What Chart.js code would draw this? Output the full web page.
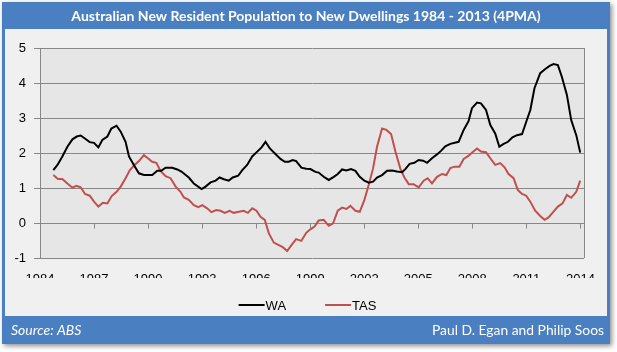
<!DOCTYPE html>
<html>
<head>
<meta charset="utf-8">
<script src="https://cdn.jsdelivr.net/npm/chart.js@4/dist/chart.umd.min.js"></script>
<style>
  html, body { margin: 0; padding: 0; background: #fff; }
  canvas { display: block; }
</style>
</head>
<body>
<canvas id="myChart" width="617" height="352"></canvas>
<script>
// Chart text
const chartTitle = "Australian New Resident Population to New Dwellings 1984 - 2013 (4PMA)";
const sourceText = "Source: ABS";
const authorText = "Paul D. Egan and Philip Soos";
const xTickLabels = [1984, 1987, 1990, 1993, 1996, 1999, 2002, 2005, 2008, 2011, 2014];
const yTickLabels = [-1, 0, 1, 2, 3, 4, 5];

// WA series (year, ratio)
const waYears = [1984.74,1984.97,1985.24,1985.52,1985.80,1986.04,1986.26,1986.53,1986.76,1987.00,
  1987.24,1987.46,1987.74,1987.96,1988.25,1988.48,1988.75,1988.94,1989.21,1989.49,
  1989.77,1990.23,1990.51,1990.73,1990.97,1991.34,1991.62,1991.85,1992.26,1992.54,
  1992.97,1993.19,1993.47,1993.75,1993.97,1994.21,1994.48,1994.70,1995.00,1995.23,
  1995.50,1995.78,1996.06,1996.30,1996.52,1996.76,1997.07,1997.35,1997.59,1997.81,
  1998.03,1998.22,1998.51,1998.78,1999.01,1999.29,1999.47,1999.75,2000.03,2000.31,
  2000.53,2000.77,2001.01,2001.27,2001.51,2001.75,2002.01,2002.25,2002.49,2002.71,
  2002.99,2003.27,2003.55,2003.82,2004.10,2004.28,2004.52,2004.78,2005.02,2005.27,
  2005.49,2005.76,2006.04,2006.26,2006.50,2006.78,2007.24,2007.52,2007.79,2007.98,
  2008.26,2008.48,2008.76,2009.00,2009.27,2009.50,2009.74,2009.98,2010.23,2010.48,
  2010.76,2010.98,2011.22,2011.45,2011.77,2012.05,2012.29,2012.51,2012.75,2012.97,
  2013.25,2013.49,2013.77,2013.99];
const waValues = [1.51,1.66,1.90,2.18,2.39,2.47,2.50,2.40,2.31,2.29,
  2.16,2.37,2.47,2.70,2.78,2.61,2.32,1.90,1.66,1.42,
  1.37,1.37,1.49,1.49,1.58,1.58,1.53,1.47,1.30,1.13,
  0.97,1.04,1.16,1.21,1.30,1.25,1.21,1.30,1.35,1.51,
  1.66,1.90,2.04,2.16,2.32,2.13,1.97,1.83,1.75,1.75,
  1.80,1.77,1.58,1.55,1.54,1.46,1.44,1.32,1.23,1.32,
  1.40,1.53,1.50,1.54,1.49,1.32,1.21,1.15,1.18,1.30,
  1.37,1.49,1.50,1.47,1.45,1.54,1.69,1.72,1.80,1.78,
  1.72,1.85,1.96,2.06,2.19,2.26,2.32,2.66,2.91,3.28,
  3.44,3.42,3.23,2.80,2.56,2.18,2.26,2.32,2.45,2.51,
  2.54,2.87,3.23,3.85,4.28,4.40,4.49,4.54,4.51,4.18,
  3.66,2.94,2.51,2.01];

// TAS series (year, ratio)
const tasYears = [1984.74,1985.00,1985.24,1985.52,1985.80,1986.02,1986.26,1986.50,1986.76,1987.00,
  1987.24,1987.49,1987.74,1987.98,1988.25,1988.48,1988.75,1988.99,1989.25,1989.49,
  1989.77,1989.99,1990.23,1990.46,1990.69,1990.97,1991.25,1991.53,1991.80,1991.99,
  1992.26,1992.54,1992.79,1993.01,1993.28,1993.52,1993.78,1994.02,1994.26,1994.52,
  1994.76,1995.04,1995.31,1995.54,1995.78,1996.02,1996.24,1996.48,1996.70,1996.98,
  1997.26,1997.48,1997.72,1997.96,1998.22,1998.51,1998.78,1999.01,1999.24,1999.47,
  1999.75,2000.03,2000.27,2000.53,2000.77,2001.01,2001.23,2001.51,2001.75,2002.01,
  2002.25,2002.49,2002.71,2002.99,2003.23,2003.49,2003.73,2004.00,2004.23,2004.47,
  2004.74,2005.02,2005.30,2005.52,2005.76,2006.04,2006.32,2006.56,2006.78,2007.02,
  2007.28,2007.52,2007.76,2007.98,2008.26,2008.48,2008.76,2009.00,2009.27,2009.55,
  2009.79,2010.01,2010.29,2010.53,2010.76,2010.99,2011.22,2011.49,2011.77,2012.01,
  2012.23,2012.45,2012.75,2013.01,2013.25,2013.49,2013.77,2013.99];
const tasValues = [1.37,1.26,1.26,1.13,1.01,1.06,1.02,0.83,0.78,0.61,
  0.47,0.58,0.56,0.77,0.89,1.04,1.28,1.51,1.66,1.77,
  1.94,1.85,1.75,1.72,1.49,1.34,1.28,1.04,0.89,0.73,
  0.66,0.51,0.45,0.51,0.42,0.31,0.37,0.35,0.29,0.35,
  0.29,0.32,0.35,0.29,0.42,0.35,0.18,0.09,-0.29,-0.56,
  -0.63,-0.69,-0.80,-0.63,-0.46,-0.51,-0.28,-0.18,-0.10,0.07,
  0.09,-0.08,-0.01,0.35,0.44,0.40,0.49,0.35,0.32,0.66,
  1.09,1.56,2.18,2.70,2.66,2.54,2.04,1.56,1.30,1.11,
  1.11,1.02,1.21,1.28,1.13,1.32,1.40,1.37,1.57,1.61,
  1.61,1.83,1.91,2.01,2.13,2.04,2.02,1.85,1.66,1.71,
  1.59,1.40,1.28,0.94,0.83,0.78,0.61,0.35,0.20,0.09,
  0.16,0.29,0.47,0.56,0.80,0.72,0.89,1.21];

const toPoints = (xs, ys) => xs.map((x, i) => ({ x: x, y: ys[i] }));

const BLUE = '#4a7fc1';
const GRID = '#878787';

// frame, header, footer, plot background, tick marks on the zero line, legend
const framePlugin = {
  id: 'frame',
  beforeDraw(chart) {
    const ctx = chart.ctx;
    const a = chart.chartArea;
    ctx.save();
    ctx.fillStyle = '#ffffff';
    ctx.fillRect(0, 0, chart.width, chart.height);
    ctx.shadowColor = 'rgba(0,0,0,0.45)';
    ctx.shadowBlur = 5;
    ctx.shadowOffsetX = 2;
    ctx.shadowOffsetY = 2;
    ctx.fillStyle = BLUE;
    ctx.fillRect(2, 2, 608, 342);
    ctx.shadowColor = 'transparent';
    ctx.fillStyle = '#f0f0f0';
    ctx.fillRect(5, 29, 602, 287);
    ctx.fillStyle = '#e6e6e6';
    ctx.fillRect(a.left, a.top, a.right - a.left, a.bottom - a.top);

    ctx.fillStyle = '#ffffff';
    ctx.textBaseline = 'middle';
    ctx.textAlign = 'center';
    ctx.font = "bold 14px Lato";
    ctx.fillText(chartTitle, 306, 16, 498);
    ctx.textAlign = 'left';
    ctx.font = "italic 14px Lato";
    ctx.fillText(sourceText, 11, 330, 71);
    ctx.textAlign = 'right';
    ctx.font = "14px Lato";
    ctx.fillText(authorText, 604, 330, 172);
    ctx.restore();
  },
  afterDraw(chart) {
    const ctx = chart.ctx;
    const a = chart.chartArea;
    const xs = chart.scales.x, ys = chart.scales.y;
    ctx.save();
    ctx.strokeStyle = GRID;
    ctx.lineWidth = 1;
    // right border of plot area
    ctx.beginPath();
    ctx.moveTo(Math.round(a.right) + 0.5, a.top);
    ctx.lineTo(Math.round(a.right) + 0.5, a.bottom);
    ctx.stroke();
    // tick marks hanging below the zero line
    const y0 = Math.round(ys.getPixelForValue(0)) + 0.5;
    xTickLabels.forEach(v => {
      const px = Math.round(xs.getPixelForValue(v)) + 0.5;
      ctx.beginPath();
      ctx.moveTo(px, y0);
      ctx.lineTo(px, y0 + 5);
      ctx.stroke();
    });
    // legend
    ctx.font = "13px 'Liberation Sans'";
    ctx.textBaseline = 'middle';
    ctx.textAlign = 'left';
    const items = chart.data.datasets.map(d => ({ label: d.label, color: d.borderColor, w: 28 + ctx.measureText(d.label).width }));
    const gap = 38;
    const total = items.reduce((s, it) => s + it.w, 0) + gap * (items.length - 1);
    let lx = 308 - total / 2;
    const ly = 305;
    items.forEach(it => {
      ctx.strokeStyle = it.color;
      ctx.lineWidth = 2;
      ctx.beginPath();
      ctx.moveTo(lx, ly);
      ctx.lineTo(lx + 26, ly);
      ctx.stroke();
      ctx.fillStyle = '#000';
      ctx.fillText(it.label, lx + 27, ly + 1);
      lx += it.w + gap;
    });
    ctx.restore();
  }
};

new Chart(document.getElementById('myChart'), {
  type: 'line',
  data: {
    datasets: [
      { label: 'WA', data: toPoints(waYears, waValues), borderColor: '#000000', borderWidth: 2, pointRadius: 0, tension: 0, fill: false },
      { label: 'TAS', data: toPoints(tasYears, tasValues), borderColor: '#c0504d', borderWidth: 2, pointRadius: 0, tension: 0, fill: false }
    ]
  },
  options: {
    responsive: false,
    animation: false,
    devicePixelRatio: 1,
    layout: { padding: { top: 48, right: 33, bottom: 74, left: 0 } },
    plugins: { legend: { display: false }, title: { display: false }, tooltip: { enabled: false } },
    scales: {
      x: {
        type: 'linear',
        min: 1984,
        max: 2014.2,
        afterBuildTicks: s => { s.ticks = xTickLabels.map(v => ({ value: v })); },
        afterFit: s => { s.height = 20; },
        grid: { display: false },
        border: { display: false },
        ticks: { padding: 6, color: '#000', font: { family: "'Liberation Sans'", size: 13 }, callback: v => String(v), maxRotation: 0, autoSkip: false }
      },
      y: {
        min: -1,
        max: 5,
        afterBuildTicks: s => { s.ticks = yTickLabels.map(v => ({ value: v })); },
        afterFit: s => { s.width = 40; },
        grid: { color: GRID, lineWidth: 1, tickLength: 6 },
        border: { color: GRID },
        ticks: { padding: 8, color: '#000', font: { family: "'Liberation Sans'", size: 13 } }
      }
    }
  },
  plugins: [framePlugin]
});
</script>
</body>
</html>
